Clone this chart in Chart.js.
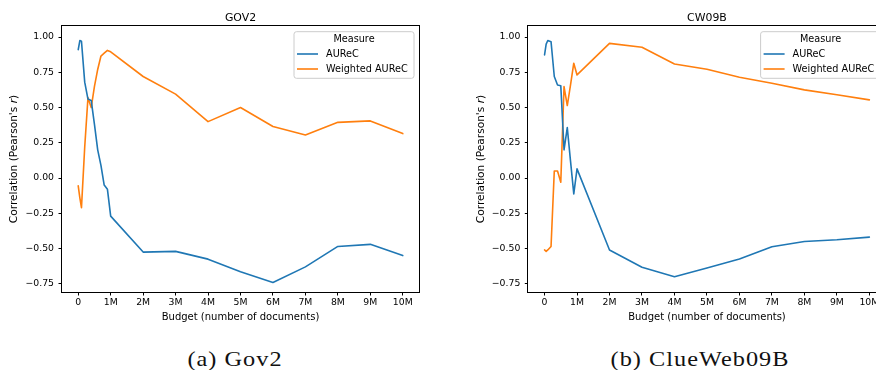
<!DOCTYPE html>
<html><head><meta charset="utf-8">
<script src="https://cdn.jsdelivr.net/npm/chart.js@4.4.1/dist/chart.umd.min.js"></script>
<style>
html,body{margin:0;padding:0;width:876px;height:370px;overflow:hidden;background:#fff;}
#p1{position:absolute;left:0;top:0;width:438px;height:330px;overflow:hidden;}
#p2{position:absolute;left:438px;top:0;width:438px;height:330px;overflow:hidden;}
canvas{display:block;}
.cap{position:absolute;font-family:"Liberation Serif","DejaVu Serif",serif;font-size:21.5px;line-height:1;letter-spacing:0.9px;white-space:nowrap;transform:translateX(-50%) scaleX(1.13);color:#111;}
</style></head><body>
<div id="p1"><canvas id="c1" width="438" height="330"></canvas></div>
<div id="p2"><canvas id="c2" width="470" height="330"></canvas></div>
<div class="cap" style="left:235px;top:349px">(a) Gov2</div>
<div class="cap" style="left:699.5px;top:349px">(b) ClueWeb09B</div>
<script>
// ---- data (budget in millions of documents) ----
const budget = [0, 0.05, 0.1, 0.2, 0.3, 0.4, 0.5, 0.6, 0.7, 0.8, 0.9, 1, 2, 3, 4, 5, 6, 7, 8, 9, 10];
const gov2Aurec    = [0.91, 0.975, 0.97, 0.68, 0.56, 0.55, 0.38, 0.20, 0.09, -0.05, -0.08, -0.27, -0.525, -0.52, -0.575, -0.665, -0.74, -0.63, -0.485, -0.47, -0.55];
const gov2Weighted = [-0.055, -0.14, -0.21, 0.22, 0.57, 0.50, 0.65, 0.77, 0.865, 0.885, 0.905, 0.895, 0.72, 0.595, 0.40, 0.50, 0.365, 0.305, 0.395, 0.405, 0.315];
const cw09Aurec    = [0.873, 0.95, 0.975, 0.967, 0.72, 0.66, 0.655, 0.20, 0.358, 0.12, -0.112, 0.065, -0.51, -0.632, -0.70, -0.638, -0.574, -0.487, -0.45, -0.438, -0.419];
const cw09Weighted = [-0.51, -0.52, -0.51, -0.485, 0.05, 0.05, -0.03, 0.648, 0.514, 0.66, 0.814, 0.731, 0.955, 0.927, 0.809, 0.771, 0.715, 0.672, 0.625, 0.591, 0.554];
const seriesNames = ['AUReC', 'Weighted AUReC'];
const xTicks = [0,1,2,3,4,5,6,7,8,9,10];
const xTickLabels = ['0','1M','2M','3M','4M','5M','6M','7M','8M','9M','10M'];
const yTicks = [-0.75,-0.5,-0.25,0,0.25,0.5,0.75,1.0];
const yTickLabels = ['\u22120.75','\u22120.50','\u22120.25','0.00','0.25','0.50','0.75','1.00'];

const FONT = '"DejaVu Sans", sans-serif';
const TICK_FS = 9.3, LEG_FS = 9.7, XLAB_FS = 10, YLAB_FS = 10.6, TITLE_FS = 10.9;
const BLUE = '#1f77b4', ORANGE = '#ff7f0e';

function pts(xs, ys){ return xs.map((x,i)=>({x:x, y:ys[i]})); }

const decor = {
  id:'decor',
  afterDraw(chart, args, opts){
    const ctx = chart.ctx, ca = chart.chartArea;
    ctx.save();
    // frame
    ctx.strokeStyle = '#000'; ctx.lineWidth = 1;
    const L = Math.round(ca.left)-0.5, T = Math.round(ca.top)-0.5, R = Math.round(ca.right)+0.5, B = Math.round(ca.bottom)+0.5;
    ctx.strokeRect(L, T, R-L, B-T);
    const cx = (ca.left+ca.right)/2;
    ctx.fillStyle = '#000';
    // title
    ctx.font = TITLE_FS + 'px ' + FONT; ctx.textAlign='center'; ctx.textBaseline='middle';
    ctx.fillText(opts.title, cx, 18);
    // x label
    ctx.font = XLAB_FS + 'px ' + FONT;
    ctx.fillText('Budget (number of documents)', cx, 317.5);
    // y label with italic r
    const p1 = "Correlation (Pearson's ", p2 = 'r', p3 = ')';
    ctx.font = YLAB_FS + 'px ' + FONT; const w1 = ctx.measureText(p1).width, w3 = ctx.measureText(p3).width;
    ctx.font = 'italic ' + YLAB_FS + 'px ' + FONT; const w2 = ctx.measureText(p2).width;
    const tw = w1+w2+w3;
    ctx.translate(ca.left - 47.5, (ca.top+ca.bottom)/2);
    ctx.rotate(-Math.PI/2);
    ctx.textAlign='left';
    ctx.font = YLAB_FS + 'px ' + FONT; ctx.fillText(p1, -tw/2, 0);
    ctx.font = 'italic ' + YLAB_FS + 'px ' + FONT; ctx.fillText(p2, -tw/2+w1, 0);
    ctx.font = YLAB_FS + 'px ' + FONT; ctx.fillText(p3, -tw/2+w1+w2, 0);
    ctx.setTransform(1,0,0,1,0,0);
    // legend
    const bw = 120, bh = 46.6, bx = ca.right - 5 - bw, by = ca.top + 5.7, r = 2.5;
    ctx.beginPath();
    ctx.moveTo(bx+r, by); ctx.lineTo(bx+bw-r, by); ctx.arcTo(bx+bw, by, bx+bw, by+r, r);
    ctx.lineTo(bx+bw, by+bh-r); ctx.arcTo(bx+bw, by+bh, bx+bw-r, by+bh, r);
    ctx.lineTo(bx+r, by+bh); ctx.arcTo(bx, by+bh, bx, by+bh-r, r);
    ctx.lineTo(bx, by+r); ctx.arcTo(bx, by, bx+r, by, r); ctx.closePath();
    ctx.fillStyle = 'rgba(255,255,255,0.8)'; ctx.fill();
    ctx.strokeStyle = '#cccccc'; ctx.lineWidth = 1; ctx.stroke();
    ctx.fillStyle = '#000'; ctx.font = LEG_FS + 'px ' + FONT; ctx.textBaseline='middle';
    ctx.textAlign = 'center'; ctx.fillText('Measure', bx + bw/2, by + 7.8);
    ctx.textAlign = 'left';
    chart.data.datasets.forEach((ds, i) => {
      const yy = by + 22.3 + i*15;
      ctx.strokeStyle = ds.borderColor; ctx.lineWidth = 1.6;
      ctx.beginPath(); ctx.moveTo(bx+3, yy); ctx.lineTo(bx+24, yy); ctx.stroke();
      ctx.fillStyle = '#000'; ctx.fillText(ds.label, bx+32, yy);
    });
    ctx.restore();
  }
};

function makeChart(id, title, a, w, yAxisW, rightPad){
  return new Chart(document.getElementById(id), {
    type:'line',
    data:{ datasets:[
      {label:seriesNames[0], data:pts(budget,a), borderColor:BLUE, backgroundColor:BLUE, borderWidth:1.6, pointRadius:0, tension:0, fill:false, borderJoinStyle:'round', borderCapStyle:'round'},
      {label:seriesNames[1], data:pts(budget,w), borderColor:ORANGE, backgroundColor:ORANGE, borderWidth:1.6, pointRadius:0, tension:0, fill:false, borderJoinStyle:'round', borderCapStyle:'round'}
    ]},
    options:{
      responsive:false, animation:false, devicePixelRatio:1,
      layout:{padding:{top:26, right:rightPad, left:0, bottom:0}},
      plugins:{legend:{display:false}, title:{display:false}, tooltip:{enabled:false}, decor:{title:title}},
      scales:{
        x:{type:'linear', min:-0.5, max:10.5,
           afterBuildTicks:s=>{ s.ticks = xTicks.map(v=>({value:v})); },
           afterFit:s=>{ s.height = 38; },
           grid:{display:true, drawOnChartArea:false, drawTicks:true, tickLength:3.5, color:'#000', lineWidth:1},
           border:{display:false},
           ticks:{autoSkip:false, maxRotation:0, padding:2, color:'#000', font:{family:FONT, size:TICK_FS},
                  callback:(v)=>{ const i = xTicks.indexOf(v); return i>=0 ? xTickLabels[i] : ''; }}
        },
        y:{type:'linear', min:-0.808, max:1.078,
           afterBuildTicks:s=>{ s.ticks = yTicks.map(v=>({value:v})); },
           afterFit:s=>{ s.width = yAxisW; },
           grid:{display:true, drawOnChartArea:false, drawTicks:true, tickLength:3.5, color:'#000', lineWidth:1},
           border:{display:false},
           ticks:{autoSkip:false, padding:4.5, color:'#000', font:{family:FONT, size:TICK_FS},
                  callback:(v)=>{ const i = yTicks.findIndex(t=>Math.abs(t-v)<1e-9); return i>=0 ? yTickLabels[i] : ''; }}
        }
      }
    },
    plugins:[decor]
  });
}
makeChart('c1', 'GOV2', gov2Aurec, gov2Weighted, 62, 19);
makeChart('c2', 'CW09B', cw09Aurec, cw09Weighted, 90.3, 470-447.6);
</script>
</body></html>
